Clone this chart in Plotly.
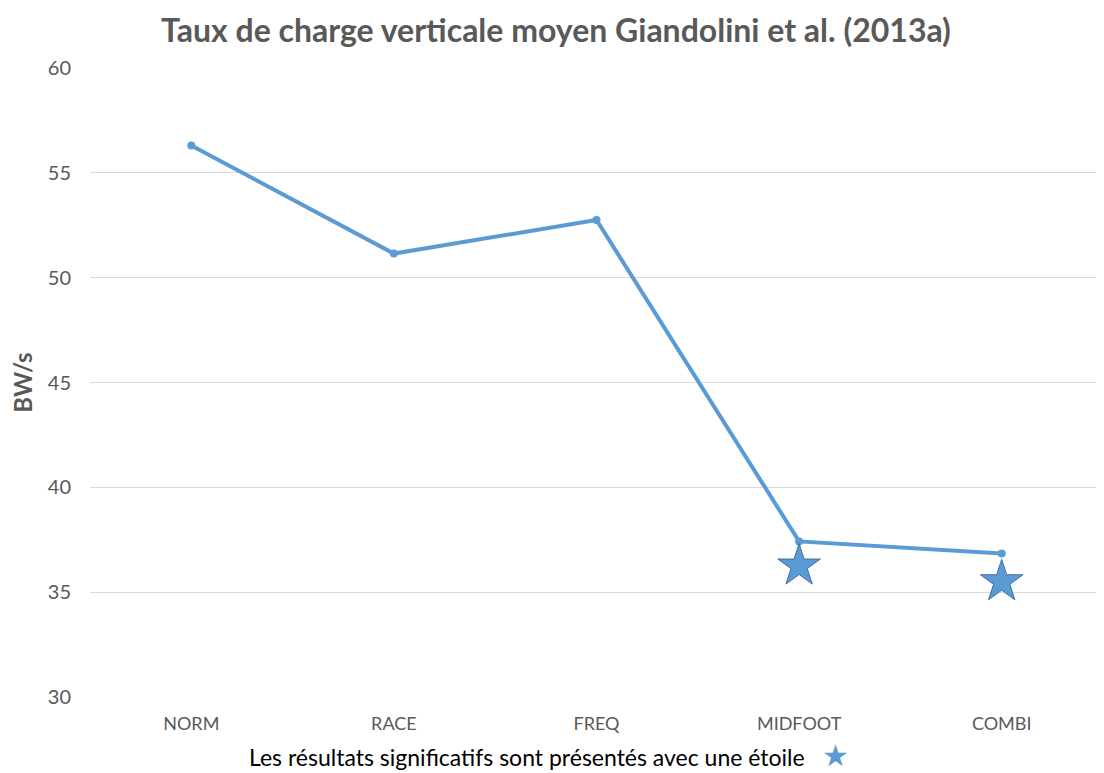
import plotly.graph_objects as go

categories = ["NORM", "RACE", "FREQ", "MIDFOOT", "COMBI"]
values = [56.3, 51.15, 52.75, 37.42, 36.85]
sig_categories = ["MIDFOOT", "COMBI"]
sig_star_values = [36.25, 35.5]
y_ticks = [30, 35, 40, 45, 50, 55, 60]
note_text = "Les résultats significatifs sont présentés avec une étoile"

LINE = "#5B9BD5"
GRAY = "#595959"
FONT = "Lato, 'Open Sans', sans-serif"

fig = go.Figure()
fig.add_trace(go.Scatter(
    x=categories, y=values, mode="lines+markers",
    line=dict(color=LINE, width=4),
    marker=dict(color=LINE, size=8),
    showlegend=False, hoverinfo="x+y",
))
fig.add_trace(go.Scatter(
    x=sig_categories, y=sig_star_values, mode="markers",
    marker=dict(symbol="star", size=32, color=LINE,
                line=dict(color="#41719C", width=1)),
    showlegend=False,
))

fig.update_layout(
    width=1096, height=765,
    paper_bgcolor="white", plot_bgcolor="white",
    margin=dict(l=82, r=1, t=60, b=76, autoexpand=False),
    title=dict(text="<b>Taux de charge verticale moyen Giandolini et al. (2013a)</b>",
               x=0.5, xref="container", xanchor="center", y=0.97, yanchor="middle",
               font=dict(family=FONT, size=32, color=GRAY)),
    font=dict(family=FONT, color=GRAY),
    showlegend=False,
    annotations=[dict(
        text=note_text + "   <span style='color:" + LINE + ";font-size:30px'>★</span>",
        xref="paper", yref="paper", x=0.453, y=-0.09, xanchor="center", yanchor="middle",
        showarrow=False, font=dict(family=FONT, size=23, color="#000000"),
    )],
)
fig.update_xaxes(
    type="category", categoryorder="array", categoryarray=categories,
    range=[-0.5, len(categories) - 0.5],
    showgrid=False, showline=False, zeroline=False, ticks="",
    tickfont=dict(family=FONT, size=18, color=GRAY),
    ticklabelstandoff=14, automargin=False,
)
fig.update_yaxes(
    range=[30, 60], tickvals=y_ticks, showgrid=True, gridcolor="#D9D9D9", gridwidth=1,
    zeroline=False, showline=False, ticks="",
    tickfont=dict(family=FONT, size=20, color=GRAY),
    ticklabelstandoff=18, automargin=False,
    title=dict(text="<b>BW/s</b>", font=dict(family=FONT, size=24, color=GRAY), standoff=8),
)

fig.write_html("out.html")
